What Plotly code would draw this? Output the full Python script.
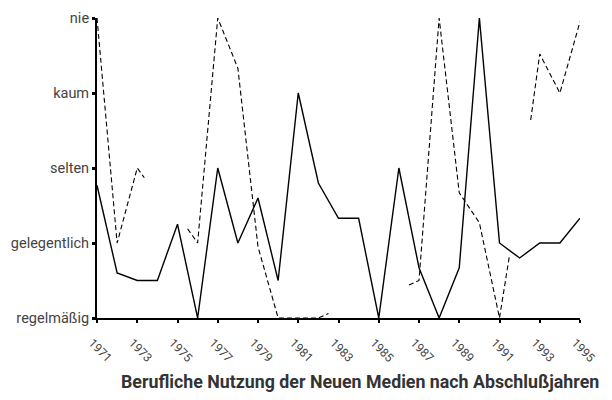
import plotly.graph_objects as go

# Data
years = list(range(1971, 1996))
solid_values = [2.77, 1.6, 1.5, 1.5, 2.25, 1.0, 3.0, 2.0, 2.6, 1.5, 4.0, 2.8, 2.33, 2.33,
                1.0, 3.0, 1.67, 1.0, 1.67, 5.0, 2.0, 1.8, 2.0, 2.0, 2.33]

# dashed series: visible fragments only (None = break in line)
dashed_years = [1971, 1972, 1973, 1973.35, None,
                1975.5, 1976, 1977, 1978, 1979, 1980, 1981, 1982, 1982.5, None,
                1986.5, 1987, 1988, 1989, 1990, 1991, 1991.5, None,
                1992.55, 1993, 1994, 1995]
dashed_values = [5.0, 2.0, 3.0, 2.87, None,
                 2.19, 2.0, 5.0, 4.33, 1.95, 1.0, 1.0, 1.0, 1.06, None,
                 1.44, 1.5, 5.0, 2.67, 2.27, 1.0, 1.84, None,
                 3.64, 4.52, 4.0, 4.95]

y_levels = [1, 2, 3, 4, 5]
y_labels = ["regelmäßig", "gelegentlich", "selten", "kaum", "nie"]
x_ticks = list(range(1971, 1996, 2))
x_labels = [str(y) for y in x_ticks]
title = "Berufliche Nutzung der Neuen Medien nach Abschlußjahren"

fig = go.Figure()
fig.add_trace(go.Scatter(x=years, y=solid_values, mode="lines",
                         line=dict(color="black", width=1.4), cliponaxis=False,
                         showlegend=False))
fig.add_trace(go.Scatter(x=dashed_years, y=dashed_values, mode="lines",
                         line=dict(color="black", width=1.1, dash="5px,3px"),
                         connectgaps=False, cliponaxis=False, showlegend=False))

# page has an 8px body margin, so figure coords = page coords - 8
OFF = 8
W, H = 612 - OFF, 400 - OFF
L, T = 97 - OFF, 18 - OFF
R = W - (580 - OFF)
B = H - (318 - OFF)
plot_w, plot_h = W - L - R, H - T - B

fig.update_layout(
    width=W, height=H,
    margin=dict(l=L, r=R, t=T, b=B, autoexpand=False),
    paper_bgcolor="white", plot_bgcolor="white",
    font=dict(family="Roboto", color="#333"),
    annotations=[dict(text=f"<b>{title}</b>",
                      x=(360 - OFF - L) / plot_w, xref="paper",
                      y=-(381 - 318) / plot_h, yref="paper",
                      xanchor="center", yanchor="middle", showarrow=False,
                      font=dict(size=17.8, color="#333", family="Roboto"))],
)

fig.update_xaxes(range=[1971, 1995], tickvals=x_ticks, ticktext=x_labels, tickangle=45,
                 automargin=False, ticklabelstandoff=8, ticklabelshift=-5,
                 showgrid=False, zeroline=False, showline=True, linecolor="black", linewidth=2,
                 ticks="outside", ticklen=3, tickwidth=2, tickcolor="black",
                 tickfont=dict(size=12, color="#444", family="Roboto"))
fig.update_yaxes(range=[1, 5], tickvals=y_levels, ticktext=y_labels, automargin=False,
                 showgrid=False, zeroline=False, showline=True, linecolor="black", linewidth=2,
                 ticks="outside", ticklen=3, tickwidth=3, tickcolor="black",
                 tickfont=dict(size=14.5, color="#444", family="Roboto"))

fig.write_html("out.html")
